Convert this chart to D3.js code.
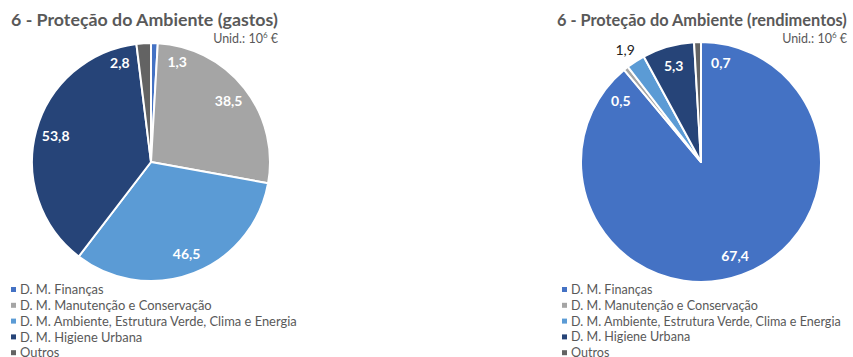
<!DOCTYPE html>
<html>
<head>
<meta charset="utf-8">
<script src="https://cdn.jsdelivr.net/npm/d3@7"></script>
<style>
  body { margin: 0; background: #fff; }
  text { font-family: Lato, "Open Sans", sans-serif; }
</style>
</head>
<body>
<svg width="853" height="357"></svg>
<script>
// Data
var categories = [
  "D. M. Finanças",
  "D. M. Manutenção e Conservação",
  "D. M. Ambiente, Estrutura Verde, Clima e Energia",
  "D. M. Higiene Urbana",
  "Outros"
];
var gastos = [1.3, 38.5, 46.5, 53.8, 2.8];
var rendimentos = [67.4, 0.5, 1.9, 5.3, 0.7];
var colors = ["#4472C4", "#A5A5A5", "#5B9BD5", "#264478", "#636363"];

var svg = d3.select("svg");
var fmt = function (v) { return d3.format(".1f")(v).replace(".", ","); };

// layout of each panel (label nudges = [angle offset deg, radius factor, dark text])
var charts = [
  {
    title: "6 - Proteção do Ambiente (gastos)",
    values: gastos,
    left: 11, right: 278, cx: 151, cy: 162, r: 119,
    legendX: 11, legendW: 286,
    nudge: [[13, 0.87], null, null, null, [-14, 0.87]]
  },
  {
    title: "6 - Proteção do Ambiente (rendimentos)",
    values: rendimentos,
    left: 557, right: 847, cx: 701, cy: 162, r: 120,
    legendX: 562, legendW: 279,
    nudge: [null, [-14, 0.84], [-1, 1.13, true], null, [13, 0.84]]
  }
];

// shrink/grow font so the text spans the wanted width
function fitWidth(sel, w) {
  var node = sel.node();
  var fs = parseFloat(sel.attr("font-size"));
  var len = node.getComputedTextLength();
  sel.attr("font-size", fs * w / len);
}

charts.forEach(function (c) {
  var g = svg.append("g");

  var title = g.append("text")
    .attr("x", c.left)
    .attr("y", 26)
    .attr("font-size", 18)
    .attr("font-weight", "bold")
    .attr("fill", "#595959")
    .text(c.title);
  fitWidth(title, c.right - c.left);

  var unit = g.append("text")
    .attr("x", c.right)
    .attr("y", 43)
    .attr("text-anchor", "end")
    .attr("font-size", 12.5)
    .attr("fill", "#595959");
  unit.append("tspan").text("Unid.: 10");
  unit.append("tspan").attr("font-size", 8).attr("dy", -5).text("6");
  unit.append("tspan").attr("dy", 5).text(" €");

  var pie = d3.pie().sort(null).value(function (d) { return d; });
  var arcs = pie(c.values);
  var arc = d3.arc().innerRadius(0).outerRadius(c.r);

  var pg = g.append("g").attr("transform", "translate(" + c.cx + "," + c.cy + ")");

  pg.selectAll("path")
    .data(arcs)
    .enter()
    .append("path")
    .attr("d", arc)
    .attr("fill", function (d, i) { return colors[i]; })
    .attr("stroke", "#fff")
    .attr("stroke-width", 2)
    .attr("stroke-linejoin", "round");

  // data labels
  pg.selectAll("text")
    .data(arcs)
    .enter()
    .append("text")
    .attr("transform", function (d, i) {
      var n = c.nudge[i] || [0, 0.83];
      var a = (d.startAngle + d.endAngle) / 2 + n[0] * Math.PI / 180;
      var rr = c.r * n[1];
      return "translate(" + (Math.sin(a) * rr) + "," + (-Math.cos(a) * rr) + ")";
    })
    .attr("text-anchor", "middle")
    .attr("dy", "0.36em")
    .attr("font-size", 14)
    .attr("fill", function (d, i) {
      var n = c.nudge[i];
      return n && n[2] ? "#222" : "#fff";
    })
    .style("font-weight", function (d, i) {
      var n = c.nudge[i];
      return n && n[2] ? "normal" : "bold";
    })
    .text(function (d) { return fmt(d.data); });

  // legend
  var lg = g.append("g").attr("transform", "translate(" + c.legendX + ",289.5)");
  var item = lg.selectAll("g")
    .data(categories)
    .enter()
    .append("g")
    .attr("transform", function (d, i) { return "translate(0," + (i * 15.8) + ")"; });

  item.append("rect")
    .attr("x", 0)
    .attr("y", -2.5)
    .attr("width", 5)
    .attr("height", 5)
    .attr("fill", function (d, i) { return colors[i]; });

  var labels = item.append("text")
    .attr("x", 9)
    .attr("dy", "0.36em")
    .attr("font-size", 12)
    .attr("fill", "#595959")
    .text(function (d) { return d; });

  // size the legend font from its longest entry
  var longest = labels.filter(function (d, i) { return i === 2; });
  fitWidth(longest, c.legendW - 9);
  labels.attr("font-size", longest.attr("font-size"));
});
</script>
</body>
</html>
